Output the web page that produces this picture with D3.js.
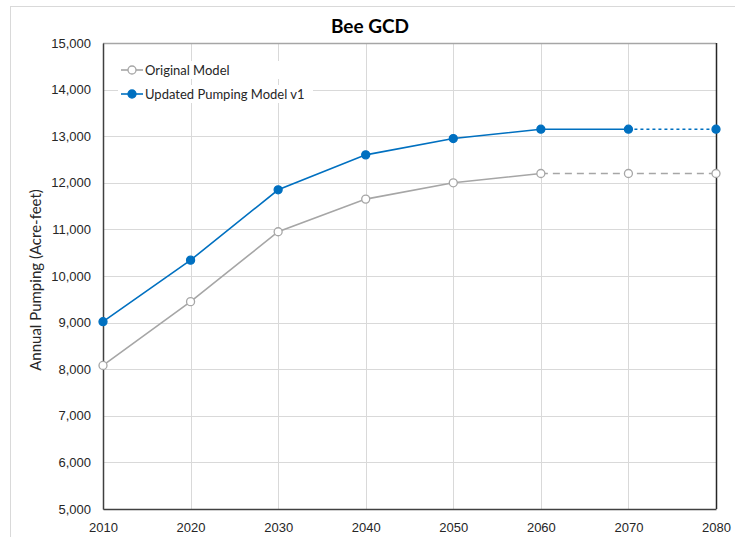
<html>
<head>
<script src="https://cdn.jsdelivr.net/npm/d3@7"></script>
<style>
  body { margin: 0; background: #fff; }
  svg { font-family: Lato, "Open Sans", sans-serif; }
</style>
</head>
<body>
<svg width="735" height="537"></svg>
<script>
var years = [2010, 2020, 2030, 2040, 2050, 2060, 2070, 2080]
var originalModel = [8080, 9450, 10950, 11650, 12000, 12200, 12200, 12200]
var updatedModel = [9020, 10340, 11850, 12600, 12950, 13150, 13150, 13150]
var yTicks = [5000, 6000, 7000, 8000, 9000, 10000, 11000, 12000, 13000, 14000, 15000]
// index where the dashed (projected) part starts
var origDashFrom = 5
var updDashFrom = 6

var svg = d3.select('svg')
var m = {left: 103, right: 716, top: 43, bottom: 509}

var x = d3.scaleLinear().domain([2010, 2080]).range([m.left, m.right])
var y = d3.scaleLinear().domain([5000, 15000]).range([m.bottom, m.top])

// outer chart frame
svg.append('rect')
  .attr('x', 10.5).attr('y', 6.5)
  .attr('width', 740).attr('height', 540)
  .attr('fill', 'none').attr('stroke', '#d9d9d9')

// gridlines
svg.append('g').selectAll('line.h')
  .data(yTicks).enter().append('line')
  .attr('x1', m.left).attr('x2', m.right)
  .attr('y1', function(d){ return Math.round(y(d)) + 0.5 })
  .attr('y2', function(d){ return Math.round(y(d)) + 0.5 })
  .attr('stroke', '#d9d9d9')
svg.append('g').selectAll('line.v')
  .data(years).enter().append('line')
  .attr('y1', m.top).attr('y2', m.bottom)
  .attr('x1', function(d){ return Math.round(x(d)) + 0.5 })
  .attr('x2', function(d){ return Math.round(x(d)) + 0.5 })
  .attr('stroke', '#d9d9d9')

// plot frame
svg.append('line').attr('x1', m.left).attr('x2', m.right).attr('y1', m.top + 0.5).attr('y2', m.top + 0.5)
  .attr('stroke', '#a6a6a6').attr('stroke-width', 1.5)
svg.append('line').attr('x1', m.right + 0.5).attr('x2', m.right + 0.5).attr('y1', m.top).attr('y2', m.bottom)
  .attr('stroke', '#262626').attr('stroke-width', 1.5)

// axes
var yAxis = d3.axisLeft(y).tickValues(yTicks).tickSize(0).tickPadding(12)
  .tickFormat(d3.format(','))
var gy = svg.append('g').attr('transform', 'translate(' + m.left + ',0)').call(yAxis)
gy.select('.domain').attr('stroke', '#404040').attr('stroke-width', 1.5)
gy.selectAll('text').attr('font-size', 13).attr('fill', '#262626')

var xAxis = d3.axisBottom(x).tickValues(years).tickSize(0).tickPadding(14)
  .tickFormat(d3.format('d'))
var gx = svg.append('g').attr('transform', 'translate(0,' + m.bottom + ')').call(xAxis)
gx.select('.domain').attr('stroke', '#404040').attr('stroke-width', 1.5)
gx.selectAll('text').attr('font-size', 13).attr('fill', '#262626')

// title and y label
svg.append('text').attr('x', 370).attr('y', 33)
  .attr('text-anchor', 'middle').attr('font-size', 19).attr('font-weight', 'bold')
  .attr('fill', '#000').text('Bee GCD')
svg.append('text')
  .attr('transform', 'translate(41,' + ((m.top + m.bottom) / 2 + 4) + ') rotate(-90)')
  .attr('text-anchor', 'middle').attr('font-size', 15).attr('fill', '#262626')
  .text('Annual Pumping (Acre-feet)')

var line = d3.line()
  .x(function(d){ return x(d[0]) })
  .y(function(d){ return y(d[1]) })

function drawSeries(vals, dashFrom, color, filled, dash, width) {
  var pts = years.map(function(yr, i){ return [yr, vals[i]] })
  svg.append('path').datum(pts.slice(0, dashFrom + 1))
    .attr('d', line).attr('fill', 'none')
    .attr('stroke', color).attr('stroke-width', width)
  svg.append('path').datum(pts.slice(dashFrom))
    .attr('d', line).attr('fill', 'none')
    .attr('stroke', color).attr('stroke-width', width)
    .attr('stroke-dasharray', dash)
  svg.append('g').selectAll('circle')
    .data(pts).enter().append('circle')
    .attr('cx', function(d){ return x(d[0]) })
    .attr('cy', function(d){ return y(d[1]) })
    .attr('r', 4)
    .attr('fill', filled ? color : '#fff')
    .attr('stroke', color).attr('stroke-width', 1.3)
}

drawSeries(originalModel, origDashFrom, '#a6a6a6', false, '7,5', 1.6)
drawSeries(updatedModel, updDashFrom, '#0070c0', true, '3,3', 1.6)

// legend
var legend = [
  {name: 'Original Model', color: '#a6a6a6', filled: false, y: 70},
  {name: 'Updated Pumping Model v1', color: '#0070c0', filled: true, y: 94}
]
var lg = svg.append('g').selectAll('g')
  .data(legend).enter().append('g')
  .attr('transform', function(d){ return 'translate(121,' + d.y + ')' })
lg.append('rect').attr('x', -3).attr('y', -9).attr('width', 195).attr('height', 18).attr('fill', '#fff')
lg.append('line').attr('x1', 0).attr('x2', 22)
  .attr('stroke', function(d){ return d.color }).attr('stroke-width', 1.6)
lg.append('circle').attr('cx', 11).attr('r', 4)
  .attr('fill', function(d){ return d.filled ? d.color : '#fff' })
  .attr('stroke', function(d){ return d.color }).attr('stroke-width', 1.3)
lg.append('text').attr('x', 24).attr('dy', '0.35em')
  .attr('font-size', 13).attr('fill', '#262626')
  .text(function(d){ return d.name })
</script>
</body>
</html>
